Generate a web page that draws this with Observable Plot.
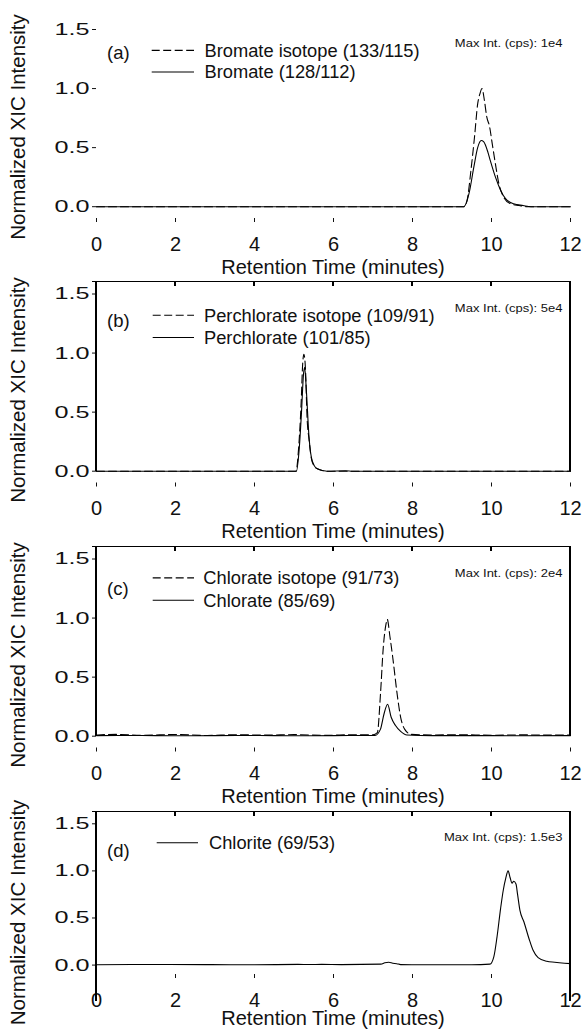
<!DOCTYPE html>
<html>
<head>
<meta charset="utf-8">
<script src="https://cdn.jsdelivr.net/npm/d3@7"></script>
<script src="https://cdn.jsdelivr.net/npm/@observablehq/plot@0.6"></script>
<style>
html, body { margin: 0; padding: 0; background: #fff; }
#chart { position: relative; width: 582px; font-family: "Liberation Sans", Arial, sans-serif; }
#chart svg { display: block; }
.edge { position: absolute; background: #000; pointer-events: none; }
</style>
</head>
<body>
<div id="chart"></div>
<script>
// ---------- text ----------
const panelLetters = ["(a)", "(b)", "(c)", "(d)"];
const maxIntLabels = ["Max Int. (cps): 1e4", "Max Int. (cps): 5e4", "Max Int. (cps): 2e4", "Max Int. (cps): 1.5e3"];
const seriesNames = [
  ["Bromate isotope (133/115)", "Bromate (128/112)"],
  ["Perchlorate isotope (109/91)", "Perchlorate (101/85)"],
  ["Chlorate isotope (91/73)", "Chlorate (85/69)"],
  ["Chlorite (69/53)"]
];
const xTicks = [0, 2, 4, 6, 8, 10, 12];
const yTicks = [0, 0.5, 1.0, 1.5];
const xDomain = [0, 12];
const yDomain = [-0.1, 1.5];
const xLabel = "Retention Time (minutes)";
const yLabel = "Normalized XIC Intensity";

// ---------- data (time in minutes, normalized intensity) ----------
// (a) bromate
const bromateIsoTime = [0, 9.30, 9.38, 9.48, 9.57, 9.65, 9.71, 9.76, 9.82, 9.88, 9.95, 10.02, 10.10, 10.19, 10.31, 10.48, 10.70, 10.90, 12];
const bromateIsoInt  = [0, 0, 0.05, 0.31, 0.59, 0.87, 0.96, 1.00, 0.90, 0.76, 0.68, 0.53, 0.36, 0.19, 0.08, 0.025, 0.01, 0, 0];
const bromateTime = [0, 9.30, 9.43, 9.55, 9.65, 9.74, 9.80, 9.91, 9.97, 10.10, 10.23, 10.35, 10.56, 10.80, 11.00, 12];
const bromateInt  = [0, 0, 0.11, 0.33, 0.50, 0.56, 0.55, 0.46, 0.39, 0.25, 0.14, 0.07, 0.025, 0.01, 0, 0];
// (b) perchlorate
const perchlorateIsoTime = [0, 5.05, 5.12, 5.18, 5.22, 5.25, 5.29, 5.33, 5.38, 5.46, 5.59, 5.84, 12];
const perchlorateIsoInt  = [0, 0, 0.21, 0.57, 0.91, 0.99, 0.87, 0.46, 0.27, 0.08, 0.02, 0, 0];
const perchlorateTime = [0, 5.06, 5.13, 5.19, 5.24, 5.27, 5.31, 5.38, 5.46, 5.59, 5.84, 6.3, 6.5, 12];
const perchlorateInt  = [0, 0, 0.18, 0.50, 0.82, 0.88, 0.70, 0.29, 0.09, 0.02, 0, 0.004, 0, 0];
// (c) chlorate
const chlorateIsoTime = [0, 0.5, 1.2, 2.0, 2.8, 3.5, 4.3, 5.0, 5.8, 6.5, 7.0, 7.11, 7.19, 7.26, 7.33, 7.36, 7.43, 7.51, 7.61, 7.70, 7.80, 7.97, 8.5, 9.2, 10.0, 10.8, 11.5, 12];
const chlorateIsoInt  = [0.01, 0.015, 0.008, 0.014, 0.006, 0.012, 0.009, 0.013, 0.007, 0.012, 0.012, 0.03, 0.36, 0.75, 0.95, 0.99, 0.84, 0.64, 0.36, 0.16, 0.06, 0.015, 0.01, 0.012, 0.008, 0.011, 0.009, 0.01];
const chlorateTime = [0, 1, 2, 3, 4, 5, 6, 7.05, 7.19, 7.28, 7.37, 7.46, 7.57, 7.70, 7.86, 8.5, 9.5, 10.5, 12];
const chlorateInt  = [0.005, 0.006, 0.004, 0.005, 0.006, 0.004, 0.005, 0.006, 0.06, 0.19, 0.27, 0.16, 0.09, 0.04, 0.01, 0.005, 0.005, 0.004, 0.005];
// (d) chlorite
const chloriteTime = [0, 0.9, 1.85, 2.9, 4.0, 5.1, 5.4, 5.7, 6.2, 7.2, 7.3, 7.4, 7.5, 7.6, 7.7, 8.0, 8.8, 9.5, 9.96, 10.06, 10.14, 10.23, 10.30, 10.36, 10.42, 10.47, 10.52, 10.56, 10.62, 10.66, 10.72, 10.82, 10.95, 11.05, 11.18, 11.4, 11.6, 11.85, 12];
const chloriteInt  = [0.003, 0.006, 0.006, 0.005, 0.003, 0.007, 0.006, 0.007, 0.005, 0.01, 0.025, 0.03, 0.02, 0.015, 0.005, 0.004, 0.004, 0.004, 0.01, 0.09, 0.30, 0.60, 0.80, 0.92, 1.00, 0.93, 0.87, 0.89, 0.86, 0.75, 0.58, 0.46, 0.28, 0.16, 0.08, 0.04, 0.03, 0.02, 0.015];

const seriesData = [
  [[bromateIsoTime, bromateIsoInt, true], [bromateTime, bromateInt, false]],
  [[perchlorateIsoTime, perchlorateIsoInt, true], [perchlorateTime, perchlorateInt, false]],
  [[chlorateIsoTime, chlorateIsoInt, true], [chlorateTime, chlorateInt, false]],
  [[chloriteTime, chloriteInt, false]]
];

// ---------- layout (pixels) ----------
const layout = [
  {h: 281, mt: 29,   mb: 63,   xpad: 14, xTitleDy: 55.5, yTitleShift: 3.5,  letterDy: 24,   rows: [21.4, 43],   lineX: [55.7, 98],  textX: 108.5},
  {h: 265, mt: 12.5, mb: 63.5, xpad: 14, xTitleDy: 55.5, yTitleShift: 2,    letterDy: 27.5, rows: [21.7, 44],   lineX: [56.7, 98],  textX: 108},
  {h: 265, mt: 12.5, mb: 63.5, xpad: 14, xTitleDy: 55.5, yTitleShift: 2,    letterDy: 30,   rows: [19.4, 41.7], lineX: [56.7, 98],  textX: 107.3},
  {h: 223, mt: 12.3, mb: 60,   xpad: 14, xTitleDy: 50.5, yTitleShift: 13.8, letterDy: 27,   rows: [19.4],       lineX: [60.7, 102], textX: 113}
];

const W = 582, ML = 96, MR = 12;
const FONT = '"Liberation Sans", Arial, sans-serif';
const INK = "#111";
const chart = document.getElementById("chart");

function edge(left, top, width, height) {
  const d = document.createElement("div");
  d.className = "edge";
  d.style.left = left + "px"; d.style.top = top + "px";
  d.style.width = width + "px"; d.style.height = height + "px";
  chart.appendChild(d);
}

layout.forEach((cfg, i) => {
  const lines = seriesData[i].map(([ts, vs, dashed]) =>
    Plot.line(d3.zip(ts, vs).map(([t, v]) => ({t, v})), {
      x: "t", y: "v", stroke: "#000", strokeWidth: 1.1,
      strokeDasharray: dashed ? "8,4" : null, curve: "monotone-x"
    })
  );
  const svg = Plot.plot({
    width: W, height: cfg.h,
    marginLeft: ML, marginRight: MR, marginTop: cfg.mt, marginBottom: cfg.mb,
    style: {fontFamily: FONT, fontSize: "20px", color: INK, overflow: "visible"},
    x: {domain: xDomain, ticks: xTicks, tickSize: 4, tickPadding: cfg.xpad, label: null},
    y: {domain: yDomain, ticks: yTicks, tickSize: 4, tickPadding: 3, tickFormat: d3.format(".1f"), label: null},
    marks: lines
  });
  chart.appendChild(svg);
  const top0 = svg.offsetTop;

  const s = d3.select(svg);
  // positions through Plot's own scales
  const sx = svg.scale("x"), sy = svg.scale("y");
  const X = sx.apply ? (v) => sx.apply(v) : d3.scaleLinear(sx.domain, sx.range);
  const Y = sy.apply ? (v) => sy.apply(v) : d3.scaleLinear(sy.domain, sy.range);
  const L = X(xDomain[0]), R = X(xDomain[1]), T = Y(yDomain[1]), B = Y(yDomain[0]);

  // y tick labels: wide, short digits as in the reference
  s.selectAll("text").each(function () {
    if (/^\d\.\d$/.test(this.textContent)) {
      this.style.fontSize = "17px";
      this.setAttribute("textLength", "35");
      this.setAttribute("lengthAdjust", "spacingAndGlyphs");
    }
  });

  // frame and tick marks (HTML overlay, placed with the plot's scales)
  const lw = 1.2;
  edge(L - lw / 2, top0 + T - lw / 2, R - L + lw, lw);
  edge(L - lw / 2, top0 + B - lw / 2, R - L + lw, lw);
  edge(L - lw / 2, top0 + T - lw / 2, lw, B - T + lw);
  edge(R - lw / 2, top0 + T - lw / 2, lw, B - T + lw);
  xTicks.forEach(t => edge(X(t) - lw / 2, top0 + B, lw, 4.5));
  yTicks.forEach(t => edge(L - 4.5, top0 + Y(t) - lw / 2, 4.5, lw));

  const g = s.append("g").attr("fill", INK).attr("text-anchor", "start").style("font-family", FONT);
  // x title
  g.append("text").attr("x", (L + R) / 2).attr("y", B + cfg.xTitleDy)
    .attr("text-anchor", "middle").style("font-size", "20px").text(xLabel);
  // y title
  g.append("text").attr("transform", `translate(25,${(T + B) / 2 + cfg.yTitleShift}) rotate(-90)`)
    .attr("text-anchor", "middle").style("font-size", "20.5px").text(yLabel);
  // panel letter
  g.append("text").attr("x", L + 11).attr("y", T + cfg.letterDy).attr("dy", "0.35em")
    .style("font-size", "18.5px").text(panelLetters[i]);
  // legend
  seriesNames[i].forEach((name, k) => {
    const dashed = seriesData[i][k][2];
    g.append("line").attr("x1", L + cfg.lineX[0]).attr("x2", L + cfg.lineX[1])
      .attr("y1", T + cfg.rows[k]).attr("y2", T + cfg.rows[k])
      .attr("stroke", "#000").attr("stroke-width", 1.1)
      .attr("stroke-dasharray", dashed ? "8,3.5" : null);
    g.append("text").attr("x", L + cfg.textX).attr("y", T + cfg.rows[k]).attr("dy", "0.35em")
      .style("font-size", "18.3px").text(name);
  });
  // max intensity note
  const mt = g.append("text").attr("y", T + 14).attr("dy", "0.35em")
    .style("font-size", "11.5px").text(maxIntLabels[i]);
  const len = mt.node().getComputedTextLength() * 1.13;
  mt.attr("x", R - 7.5 - len).attr("textLength", len).attr("lengthAdjust", "spacingAndGlyphs");
});
</script>
</body>
</html>
